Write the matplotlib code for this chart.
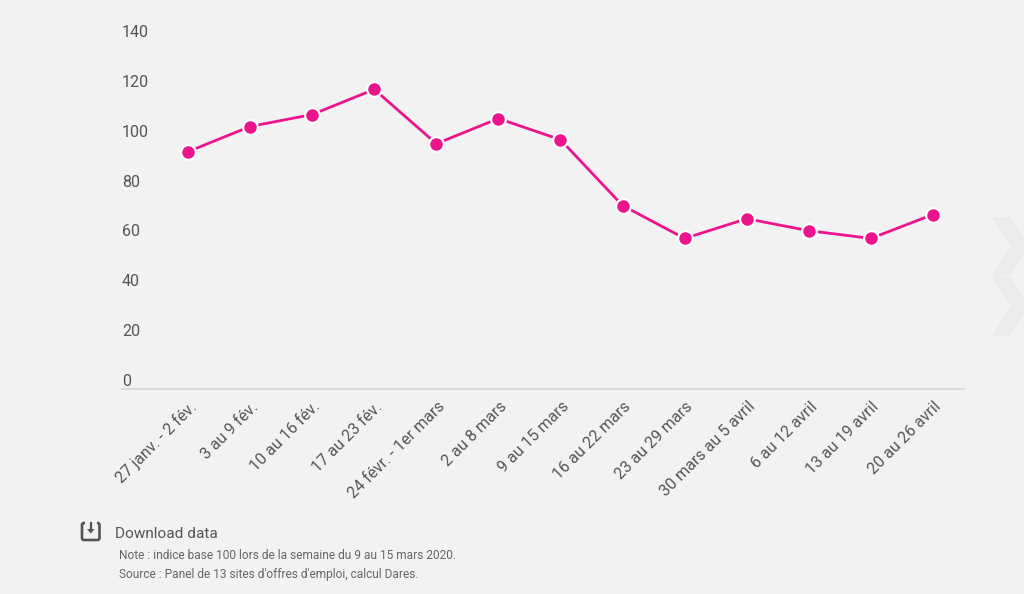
import matplotlib
matplotlib.use("Agg")
import matplotlib.pyplot as plt
from matplotlib.patches import Polygon, FancyBboxPatch
from matplotlib.transforms import ScaledTranslation

plt.rcParams['font.family'] = ['Roboto', 'DejaVu Sans']

categories = ["27 janv. - 2 fév.", "3 au 9 fév.", "10 au 16 fév.", "17 au 23 fév.",
              "24 févr. - 1er mars", "2 au 8 mars", "9 au 15 mars", "16 au 22 mars",
              "23 au 29 mars", "30 mars au 5 avril", "6 au 12 avril", "13 au 19 avril",
              "20 au 26 avril"]
values = [95.2, 105.3, 110.1, 120.2, 98.4, 108.5, 100.0, 73.6, 60.4, 68.3, 63.5, 60.4, 70.0]
y_ticks = [0, 20, 40, 60, 80, 100, 120, 140]

W, H = 1024, 594
BG = '#f2f2f2'
fig = plt.figure(figsize=(W / 100, H / 100), dpi=100, facecolor=BG)

# full-figure overlay in pixel coordinates for decoration
deco = fig.add_axes([0, 0, 1, 1], zorder=0)
deco.set_xlim(0, W)
deco.set_ylim(H, 0)
deco.axis('off')
for top in (217, 277):
    deco.add_patch(Polygon([(992, top), (1010, top), (1030, top + 29), (1010, top + 59), (992, top + 59), (1011, top + 29)],
                           closed=True, fc='#ebebeb', ec='none'))

# Download icon
deco.add_patch(FancyBboxPatch((82, 523), 17.5, 17, boxstyle="round,pad=0,rounding_size=2",
                              fc='none', ec='#555555', lw=1.9))
deco.add_patch(Polygon([(85, 521), (96.5, 521), (96.5, 526), (85, 526)], closed=True, fc=BG, ec='none', zorder=3))
deco.plot([90.8, 90.8], [523, 530], color='#555555', lw=1.6, zorder=4)
deco.add_patch(Polygon([(87, 529), (94.6, 529), (90.8, 533.5)], closed=True, fc='#555555', ec='none', zorder=4))
deco.text(115, 533.5, "Download data", fontsize=11.05, color='#555555', va='center', ha='left')
deco.text(119, 555.5, "Note : indice base 100 lors de la semaine du 9 au 15 mars 2020.",
          fontsize=8.6, color='#666666', va='center', ha='left')
deco.text(119, 574.5, "Source : Panel de 13 sites d'offres d'emploi, calcul Dares.",
          fontsize=8.6, color='#666666', va='center', ha='left')

# main axes: x 122-964 px, y baseline 389 px, top at 40 px (=140)
ax = fig.add_axes([122 / W, 1 - 389 / H, (963.5 - 122) / W, (389 - 40) / H], zorder=1)
ax.patch.set_alpha(0)
step = 62.08
ax.set_xlim(-(188 - 122) / step, (963.5 - 188) / step)
ax.set_ylim(0, 140)
xs = list(range(len(categories)))
ax.plot(xs, values, color='#ec148c', lw=2.0, zorder=2, clip_on=False,
        marker='o', ms=10.6, mfc='#ec148c', mec='white', mew=1.6)

for s in ('top', 'left', 'right'):
    ax.spines[s].set_visible(False)
ax.spines['bottom'].set_color('#d6d6d6')
ax.spines['bottom'].set_linewidth(1.2)

ax.set_yticks(y_ticks)
ax.set_yticklabels([str(v) for v in y_ticks], fontsize=11.5, color='#555555',
                   ha='left', va='bottom')
ax.tick_params(axis='y', length=0, pad=0)
for lab in ax.get_yticklabels():
    lab.set_x(0)
    lab.set_transform(ax.get_yaxis_transform())
    lab.set_y(lab.get_position()[1])

ax.set_xticks(xs)
ax.set_xticklabels(categories, rotation=45, ha='right', va='top', rotation_mode='anchor',
                   fontsize=11.5, color='#555555')
ax.tick_params(axis='x', length=0, pad=8)
offset = ScaledTranslation(0.5 / 100, 1 / 100, fig.dpi_scale_trans)
for lab in ax.get_xticklabels():
    lab.set_transform(lab.get_transform() + offset)

fig.savefig("out.png", dpi=100, facecolor=BG)
